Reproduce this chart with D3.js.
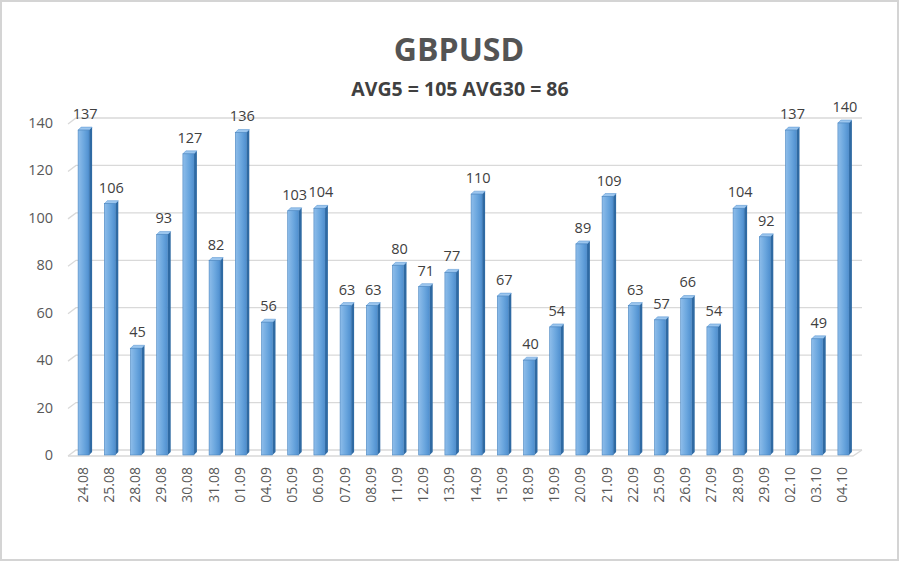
<!DOCTYPE html>
<html>
<head>
<meta charset="utf-8">
<script src="https://d3js.org/d3.v7.min.js"></script>
<title>GBPUSD</title>
<style>
  body { margin: 0; background: #fff; }
  svg { display: block; font-family: "Open Sans", "DejaVu Sans", sans-serif; }
</style>
</head>
<body>
<div id="chart"></div>
<script>
// data
var dates = ['24.08','25.08','28.08','29.08','30.08','31.08','01.09','04.09','05.09','06.09',
             '07.09','08.09','11.09','12.09','13.09','14.09','15.09','18.09','19.09','20.09',
             '21.09','22.09','25.09','26.09','27.09','28.09','29.09','02.10','03.10','04.10'];
var values = [137,106,45,93,127,82,136,56,103,104,
              63,63,80,71,77,110,67,40,54,89,
              109,63,57,66,54,104,92,137,49,140];
var yTicks = [0,20,40,60,80,100,120,140];
var title = 'GBPUSD';
var subtitle = 'AVG5 = 105 AVG30 = 86';

var width = 900, height = 562;
var svg = d3.select('#chart').append('svg').attr('width', width).attr('height', height);

// outer frame
svg.append('rect').attr('x', 1).attr('y', 1).attr('width', width - 3).attr('height', height - 3)
   .attr('fill', '#fff').attr('stroke', '#d4d4d4').attr('stroke-width', 2);

var x = d3.scaleBand().domain(dates).range([72, 858]);
var y = d3.scaleLinear().domain([0, 140]).range([455, 123]);

var depthX = 8, depthY = 6;   // 3d offset of back wall

// gradients
var defs = svg.append('defs');
var g1 = defs.append('linearGradient').attr('id', 'front').attr('x1', 0).attr('x2', 1).attr('y1', 0).attr('y2', 0);
g1.append('stop').attr('offset', '0%').attr('stop-color', '#8ebdea');
g1.append('stop').attr('offset', '55%').attr('stop-color', '#6aa6de');
g1.append('stop').attr('offset', '100%').attr('stop-color', '#4f8fcf');

// gridlines (with perspective stub on the left)
var grid = svg.append('g').attr('class', 'grid');
yTicks.forEach(function(t) {
  var yy = y(t);
  grid.append('path')
      .attr('d', 'M68,' + (yy + 1) + 'L' + (68 + depthX) + ',' + (yy - depthY + 1) + 'L862,' + (yy - depthY + 1))
      .attr('fill', 'none').attr('stroke', '#d9d9d9').attr('stroke-width', 1.3);
});
// floor front edge
svg.append('path')
   .attr('d', 'M68,' + (y(0) + 1) + 'L853,' + (y(0) + 1) + 'L862,' + (y(0) - depthY + 1))
   .attr('fill', 'none').attr('stroke', '#d9d9d9').attr('stroke-width', 1.3);

// y labels
svg.append('g').selectAll('text').data(yTicks).enter().append('text')
   .attr('x', 53).attr('y', function(d) { return y(d) + 5; })
   .attr('text-anchor', 'end').attr('font-size', 14.5).attr('fill', '#595959')
   .text(function(d) { return d; });

// bars
var bw = 11, dx = 3, dy = 3;
var bars = svg.append('g').selectAll('g').data(values).enter().append('g');
bars.each(function(v, i) {
  var g = d3.select(this);
  var cx = x(dates[i]) + x.bandwidth() / 2;
  var x0 = cx - (bw + dx) / 2, x1 = x0 + bw, top = y(v), bot = y(0);
  // side
  g.append('path')
   .attr('d', 'M' + x1 + ',' + top + 'L' + (x1 + dx) + ',' + (top - dy) + 'L' + (x1 + dx) + ',' + (bot - dy) + 'L' + x1 + ',' + bot + 'Z')
   .attr('fill', '#2f6aa3');
  // top
  g.append('path')
   .attr('d', 'M' + x0 + ',' + top + 'L' + (x0 + dx) + ',' + (top - dy) + 'L' + (x1 + dx) + ',' + (top - dy) + 'L' + x1 + ',' + top + 'Z')
   .attr('fill', '#9cc6ee').attr('stroke', '#4f8fcf').attr('stroke-width', 0.5);
  // front
  g.append('rect').attr('x', x0).attr('y', top).attr('width', bw).attr('height', bot - top)
   .attr('fill', 'url(#front)').attr('stroke', '#4a86c0').attr('stroke-width', 0.6);
});

// value labels
svg.append('g').selectAll('text').data(values).enter().append('text')
   .attr('x', function(d, i) { return x(dates[i]) + x.bandwidth() / 2; })
   .attr('y', function(d) { return y(d) - 11; })
   .attr('text-anchor', 'middle').attr('font-size', 14.5).attr('fill', '#404040')
   .text(function(d) { return d; });

// x labels (rotated)
svg.append('g').selectAll('text').data(dates).enter().append('text')
   .attr('transform', function(d) { return 'translate(' + (x(d) + x.bandwidth() / 2 + 2.5) + ',467) rotate(-90)'; })
   .attr('text-anchor', 'end').attr('font-size', 14).attr('fill', '#595959')
   .text(function(d) { return d; });

// titles
svg.append('text').attr('x', 459).attr('y', 61).attr('text-anchor', 'middle')
   .attr('font-size', 32).attr('font-weight', 'bold').attr('fill', '#545454').text(title);
svg.append('text').attr('x', 460).attr('y', 96).attr('text-anchor', 'middle')
   .attr('font-size', 19.5).attr('font-weight', 'bold').attr('fill', '#404040').text(subtitle);
</script>
</body>
</html>
